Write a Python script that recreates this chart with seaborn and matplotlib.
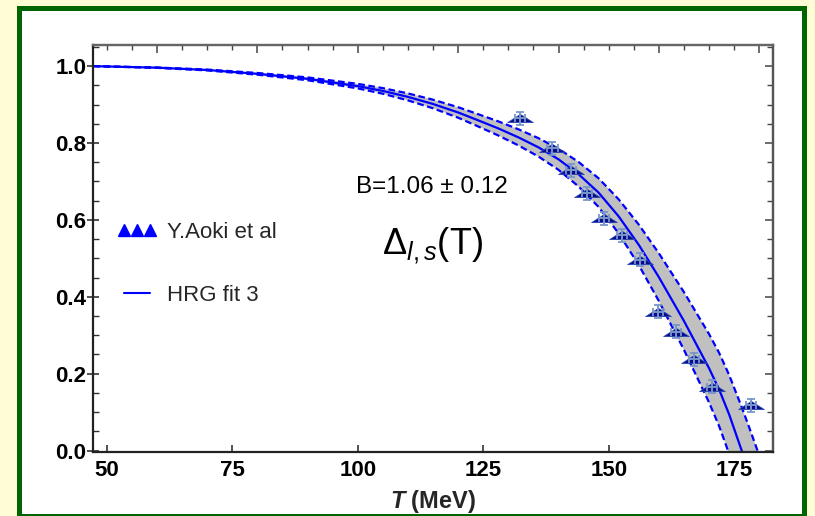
import numpy as np
import pandas as pd
import matplotlib
matplotlib.use("Agg")
import matplotlib.pyplot as plt
import seaborn as sns
from matplotlib.patches import Rectangle
from matplotlib.path import Path
from matplotlib.lines import Line2D
from matplotlib.ticker import MultipleLocator

# ---------------- data ----------------
T_data = [132.3, 138.8, 142.5, 145.6, 149.1, 152.6, 156.2, 159.8, 163.4, 167.0, 170.5, 178.3]
delta_data = [0.864, 0.786, 0.729, 0.669, 0.604, 0.560, 0.496, 0.361, 0.309, 0.238, 0.166, 0.118]
delta_err = [0.017, 0.017, 0.017, 0.017, 0.017, 0.017, 0.017, 0.017, 0.017, 0.017, 0.017, 0.017]
T_err = [1.0, 1.0, 1.0, 1.0, 1.0, 1.0, 1.0, 1.0, 1.0, 1.0, 1.0, 1.0]

T_fit = [47.3, 60, 70, 80, 90, 100, 105, 110, 115, 120, 124, 128, 132, 136, 140,
         144, 148, 152, 156, 160, 165, 170, 172, 174, 176.5, 178, 180, 182, 183]
delta_fit = [1.000, 0.996, 0.990, 0.980, 0.967, 0.948, 0.9355, 0.920, 0.9015, 0.8795,
             0.859, 0.838, 0.8148, 0.7888, 0.7576, 0.7188, 0.6708, 0.609, 0.535, 0.451,
             0.337, 0.214, 0.159, 0.094, 0.0, -0.06, -0.142, -0.226, -0.27]

B_val = 1.06
B_err = 0.12

x_ticks = [50, 75, 100, 125, 150, 175]
y_ticks = [0.0, 0.2, 0.4, 0.6, 0.8, 1.0]
# ---------------------------------------------------------------

fit_df = pd.DataFrame({"T": T_fit, "delta": delta_fit})
fit_df["upper"] = 1 - (B_val - B_err) / B_val * (1 - fit_df["delta"])
fit_df["lower"] = 1 - (B_val + B_err) / B_val * (1 - fit_df["delta"])
data_df = pd.DataFrame({"T": T_data, "delta": delta_data,
                        "yerr": delta_err, "xerr": T_err})

sns.set_theme(style="ticks")
plt.rcParams["font.family"] = ["Liberation Sans", "DejaVu Sans"]
plt.rcParams["mathtext.fontset"] = "custom"
plt.rcParams["mathtext.rm"] = "Liberation Sans"
plt.rcParams["mathtext.it"] = "Liberation Sans:italic"
plt.rcParams["mathtext.bf"] = "Liberation Sans:bold"
plt.rcParams["mathtext.bfit"] = "Liberation Sans:italic:bold"

W, H = 815, 516
fig = plt.figure(figsize=(W / 100, H / 100), dpi=100, facecolor="#FFFDD6")

# green frame + white panel
fig.patches.append(Rectangle((16.7 / W, -0.02), (807 - 16.7) / W, 1.02 - 6 / H,
                             transform=fig.transFigure, facecolor="#006400",
                             edgecolor="none", zorder=-10))
fig.patches.append(Rectangle((21.7 / W, 2 / H), (802 - 21.7) / W, (514 - 11) / H,
                             transform=fig.transFigure, facecolor="white",
                             edgecolor="none", zorder=-9))

ax_l, ax_r, ax_t, ax_b = 93.3, 773.3, 45, 451.7
ax = fig.add_axes([ax_l / W, 1 - ax_b / H, (ax_r - ax_l) / W, (ax_b - ax_t) / H])
ax.set_facecolor("white")

# band
ax.fill_between(fit_df["T"], fit_df["lower"], fit_df["upper"],
                color="#C0C0C0", linewidth=0, zorder=1)
sns.lineplot(data=fit_df, x="T", y="upper", ax=ax, color="#0000FF", lw=1.6,
             linestyle=(0, (3, 1.6)), zorder=2, estimator=None, sort=False)
sns.lineplot(data=fit_df, x="T", y="lower", ax=ax, color="#0000FF", lw=1.6,
             linestyle=(0, (3, 1.6)), zorder=2, estimator=None, sort=False)
sns.lineplot(data=fit_df, x="T", y="delta", ax=ax, color="#0000FF", lw=1.6,
             zorder=2.5, estimator=None, sort=False)

# data points: flattened triangles + error bars
tri = Path([(-1, -0.32), (1, -0.32), (0, 0.32), (-1, -0.32)],
           [Path.MOVETO, Path.LINETO, Path.LINETO, Path.CLOSEPOLY])
sns.scatterplot(data=data_df, x="T", y="delta", ax=ax, marker=tri, s=340,
                color="#0A0A8C", edgecolor="#2848B0", linewidth=0.6, zorder=3)
ax.errorbar(data_df["T"], data_df["delta"], yerr=data_df["yerr"], xerr=data_df["xerr"],
            fmt="none", ecolor="#7896C8", elinewidth=1.4, capsize=3, capthick=1.3,
            zorder=4)

ax.set_xlim(47.3, 182.8)
ax.set_ylim(-0.003, 1.055)

# ticks
ax.set_xticks(x_ticks)
ax.set_yticks(y_ticks)
ax.set_xticklabels([str(v) for v in x_ticks])
ax.set_yticklabels([f"{v:.1f}" for v in y_ticks])
ax.yaxis.set_minor_locator(MultipleLocator(0.05))
ax.tick_params(axis="x", which="major", direction="in", length=5, width=1.2,
               colors="#333333", labelcolor="black", pad=6, labelsize=16)
ax.tick_params(axis="y", which="major", direction="inout", length=8, width=1.2,
               colors="#333333", labelcolor="black", pad=1, labelsize=16)
ax.tick_params(axis="y", which="minor", direction="in", length=4, width=1.0,
               colors="#333333")
for lab in ax.get_xticklabels() + ax.get_yticklabels():
    lab.set_fontweight("bold")

secx = ax.secondary_xaxis("top")
secx.set_xticks(np.arange(60, 181, 20))
secx.xaxis.set_minor_locator(MultipleLocator(5))
secx.tick_params(which="major", direction="in", length=6, width=1.1, colors="#444444",
                 labeltop=False)
secx.tick_params(which="minor", direction="in", length=3.5, width=1.0, colors="#444444")
secx.set_xticklabels([])

secy = ax.secondary_yaxis("right")
secy.set_yticks(y_ticks)
secy.yaxis.set_minor_locator(MultipleLocator(0.05))
secy.tick_params(which="major", direction="in", length=6, width=1.1, colors="#444444",
                 labelright=False)
secy.tick_params(which="minor", direction="in", length=4, width=1.0, colors="#444444")
secy.set_yticklabels([])

for name, sp in ax.spines.items():
    sp.set_visible(True)
    sp.set_linewidth(1.6)
    sp.set_color("#222222")
ax.spines["top"].set_color("#666666")
ax.spines["right"].set_color("#555555")
for sp in secx.spines.values():
    sp.set_linewidth(1.6)
    sp.set_color("#666666")
for sp in secy.spines.values():
    sp.set_linewidth(1.6)
    sp.set_color("#555555")

ax.set_xlabel(r"$\mathbfit{T}$ (MeV)", fontsize=17, fontweight="bold", labelpad=5)
ax.set_ylabel("")

# annotations
ax.text(114.8, 0.686, "B=1.06 \u00b1 0.12", fontsize=17.5, ha="center", va="center",
        color="black")
ax.text(114.9, 0.532, r"$\Delta_{l,s}$(T)", fontsize=26, ha="center", va="center",
        color="black")

# legend
handles = [Line2D([], [], marker="^", color="#0000FF", linestyle="none", markersize=8),
           Line2D([], [], color="#0000FF", lw=1.5)]
leg = ax.legend(handles, ["Y.Aoki et al", "HRG fit 3"], loc="upper left",
                bbox_to_anchor=(0.036, 0.566), frameon=False, fontsize=16,
                numpoints=3, handlelength=1.75, handletextpad=0.45,
                labelspacing=1.9, borderpad=0, borderaxespad=0)

fig.savefig("out.png", dpi=100, facecolor=fig.get_facecolor())
